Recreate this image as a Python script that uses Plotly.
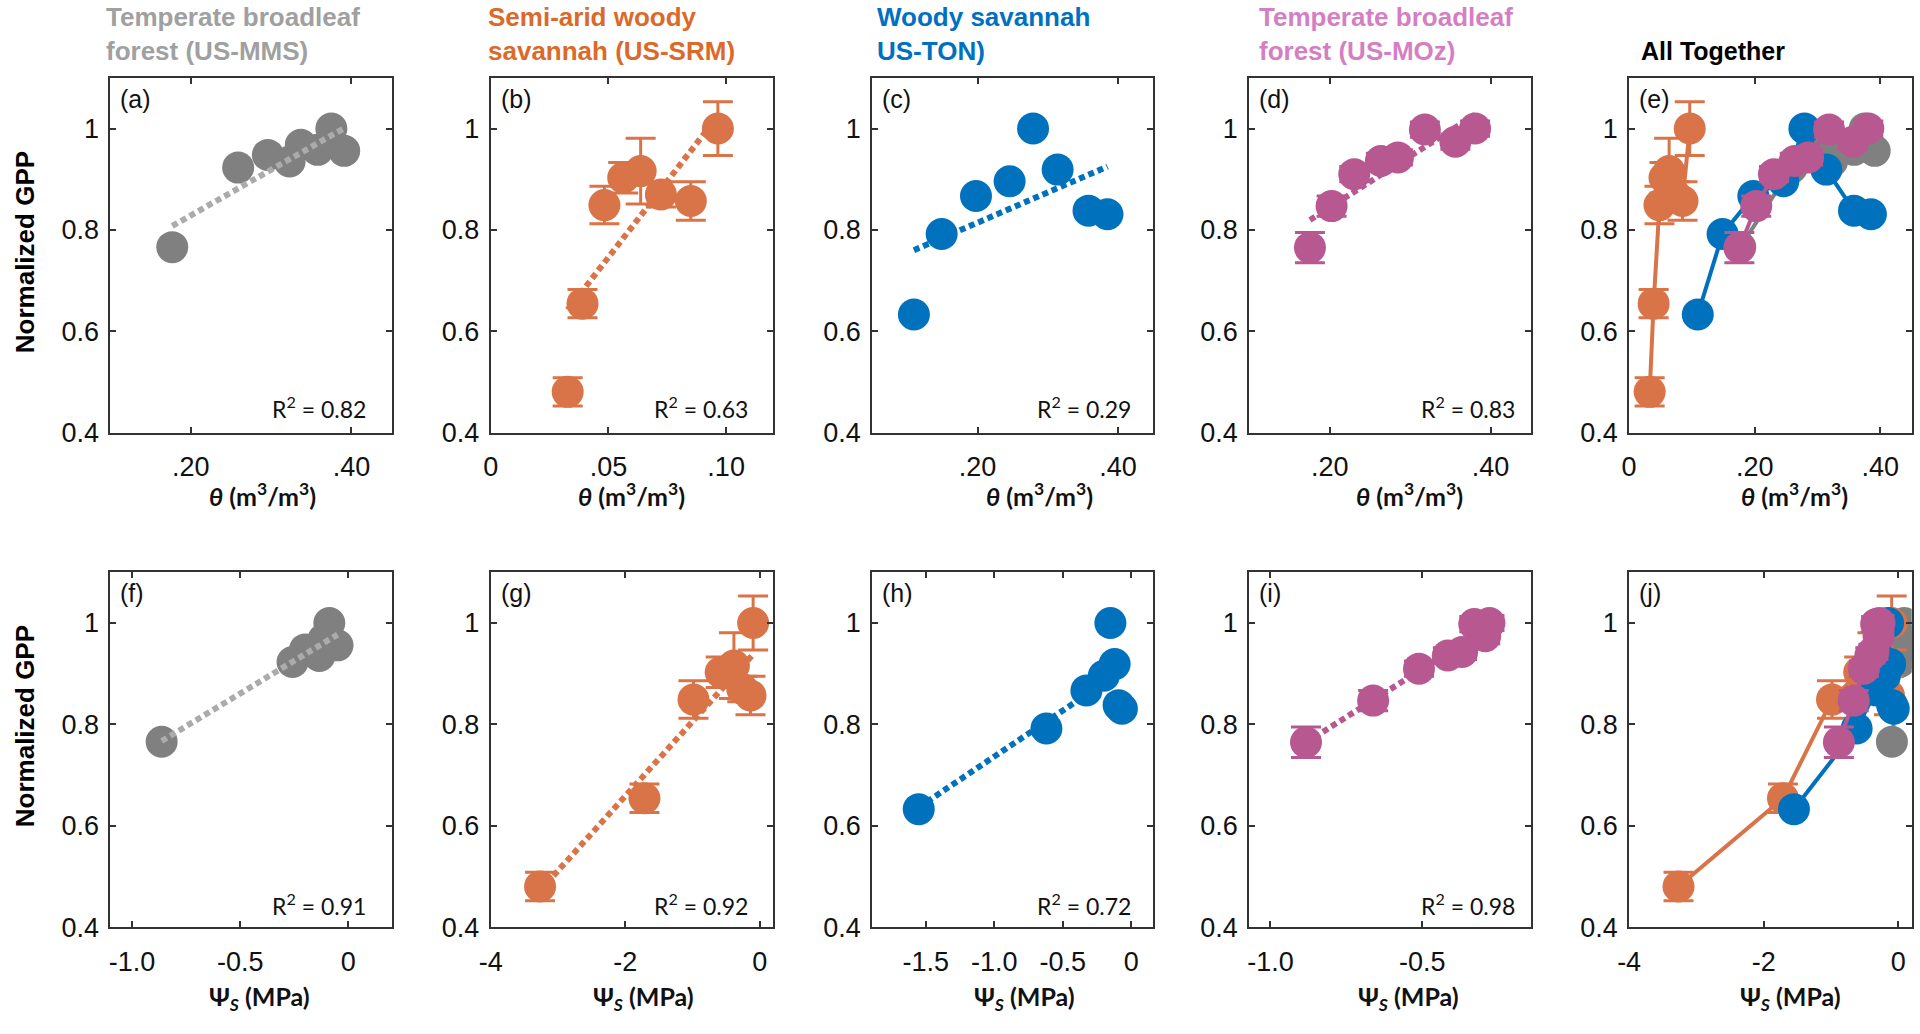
import numpy as np
import plotly.graph_objects as go

# ---------------- data ----------------
gpp_mms = [0.766, 0.923, 0.948, 0.935, 0.968, 0.958, 1.0, 0.956]
theta_mms = [0.177, 0.259, 0.296, 0.323, 0.337, 0.358, 0.375, 0.391]
psi_mms = [-0.863, -0.258, -0.20, -0.134, -0.115, -0.10, -0.088, -0.05]
psi_mms_all = [-0.095, 0.02, 0.04, 0.06, 0.07, 0.08, 0.09, 0.11]
err_mms = [0, 0, 0, 0, 0, 0, 0, 0]

gpp_srm = [0.4805, 0.6545, 0.849, 0.903, 0.916, 0.870, 0.857, 1.0]
theta_srm = [0.0327, 0.039, 0.0483, 0.0563, 0.0637, 0.0723, 0.085, 0.0965]
psi_srm = [-3.266, -1.714, -0.985, -0.581, -0.384, -0.26, -0.138, -0.0985]
err_srm = [0.028, 0.028, 0.037, 0.03, 0.065, 0.025, 0.038, 0.053]

gpp_ton = [0.633, 0.792, 0.867, 0.896, 1.0, 0.919, 0.838, 0.831]
theta_ton = [0.1093, 0.1488, 0.1977, 0.2456, 0.279, 0.314, 0.358, 0.385]
psi_ton = [-1.551, -0.619, -0.327, -0.2, -0.152, -0.121, -0.092, -0.068]
err_ton = [0, 0, 0, 0, 0, 0, 0, 0]

gpp_moz = [0.765, 0.847, 0.910, 0.936, 0.943, 0.998, 0.974, 1.0]
theta_moz = [0.1755, 0.2024, 0.2306, 0.2637, 0.2849, 0.3184, 0.3563, 0.3808]
psi_moz = [-0.883, -0.662, -0.511, -0.416, -0.369, -0.329, -0.293, -0.279]
err_moz = [0.03, 0.02, 0.015, 0.015, 0.015, 0.015, 0.015, 0.015]

r2_theta = ["0.82", "0.63", "0.29", "0.83"]
r2_psi = ["0.91", "0.92", "0.72", "0.98"]

site_titles = ["Temperate broadleaf<br>forest (US-MMS)",
               "Semi-arid woody<br>savannah (US-SRM)",
               "Woody savannah<br>US-TON)",
               "Temperate broadleaf<br>forest (US-MOz)"]
panel_letters = ["(a)", "(b)", "(c)", "(d)", "(e)", "(f)", "(g)", "(h)", "(i)", "(j)"]

theta_ticks = [[0.2, 0.4], [0, 0.05, 0.10], [0.2, 0.4], [0.2, 0.4], [0, 0.2, 0.4]]
theta_ticktext = [[".20", ".40"], ["0", ".05", ".10"], [".20", ".40"], [".20", ".40"], ["0", ".20", ".40"]]
psi_ticks = [[-1.0, -0.5, 0], [-4, -2, 0], [-1.5, -1.0, -0.5, 0], [-1.0, -0.5], [-4, -2, 0]]
psi_ticktext = [["-1.0", "-0.5", "0"], ["-4", "-2", "0"], ["-1.5", "-1.0", "-0.5", "0"],
                ["-1.0", "-0.5"], ["-4", "-2", "0"]]
y_ticks = [0.4, 0.6, 0.8, 1.0]
y_ticktext = ["0.4", "0.6", "0.8", "1"]

# ---------------- styling ----------------
W, H = 1920, 1034
marker_col = ["#808080", "#D97348", "#0072BD", "#B85891"]
fit_col = ["#ABABAB", "#D97348", "#0072BD", "#B85891"]
title_col = ["#A0A0A0", "#DB6A2A", "#0070C0", "#D57FC3"]

col_px = [(99, 382), (481.7, 766), (865.7, 1148.3), (1245, 1528.3), (1627.3, 1911.7)]
row_px = [(79, 439), (580.7, 941)]
theta_ranges = [[0.1, 0.45], [0, 0.12], [0.05, 0.45], [0.1, 0.45], [0, 0.45]]
psi_ranges = [[-1.1, 0.2], [-4, 0.2], [-1.89, 0.16], [-1.07, -0.143], [-4, 0.2]]

LAB = "Liberation Sans, Arial, sans-serif"
CAL = "Lato, Open Sans, sans-serif"


def px2x(p):
    return p / W


def px2y(p):
    return 1 - p / H


fig = go.Figure()
layout = {}
annotations = []

thetas = [theta_mms, theta_srm, theta_ton, theta_moz]
psis = [psi_mms, psi_srm, psi_ton, psi_moz]
gpps = [gpp_mms, gpp_srm, gpp_ton, gpp_moz]
errs = [err_mms, err_srm, err_ton, err_moz]

MS = 32


def add_axes(idx, row, col, rng, tv, tt):
    xa = "xaxis" if idx == 1 else f"xaxis{idx}"
    ya = "yaxis" if idx == 1 else f"yaxis{idx}"
    x0, x1 = col_px[col]
    y0, y1 = row_px[row]
    common = dict(showline=True, linecolor="#333333", linewidth=2, mirror="ticks",
                  ticks="inside", ticklen=6, tickwidth=2, tickcolor="#333333",
                  showgrid=False, zeroline=False,
                  tickfont=dict(family=LAB, size=27, color="#111111"))
    layout[xa] = dict(domain=[px2x(x0), px2x(x1)], range=rng, anchor=f"y{idx}",
                      tickmode="array", tickvals=tv, ticktext=tt,
                      ticklabelstandoff=9, **common)
    layout[ya] = dict(domain=[px2y(y1), px2y(y0)], range=[0.4, 1.1], anchor=f"x{idx}",
                      tickmode="array", tickvals=y_ticks, ticktext=y_ticktext,
                      ticklabelstandoff=4, **common)


def single_panel(idx, xs, ys, es, k):
    xr = f"x{idx}"
    yr = f"y{idx}"
    a, b = np.polyfit(xs, ys, 1)
    xl = [min(xs), max(xs)]
    yl = [a * v + b for v in xl]
    fit = go.Scatter(x=xl, y=yl, mode="lines", xaxis=xr, yaxis=yr, showlegend=False,
                     line=dict(color=fit_col[k], width=6, dash="6px,4px"), hoverinfo="skip")
    pts = go.Scatter(x=xs, y=ys, mode="markers", xaxis=xr, yaxis=yr, showlegend=False,
                     marker=dict(size=MS, color=marker_col[k], line=dict(width=0)),
                     error_y=dict(type="data", array=es, visible=any(e > 0 for e in es),
                                  color=marker_col[k], thickness=3, width=15))
    if k == 0:
        fig.add_trace(pts)
        fig.add_trace(fit)
    else:
        fig.add_trace(fit)
        fig.add_trace(pts)


def combined_panel(idx, xlist):
    xr = f"x{idx}"
    yr = f"y{idx}"
    for k in range(4):
        es = errs[k]
        fig.add_trace(go.Scatter(
            x=xlist[k], y=gpps[k], mode="lines+markers", xaxis=xr, yaxis=yr, showlegend=False,
            line=dict(color=marker_col[k], width=4),
            marker=dict(size=MS, color=marker_col[k], line=dict(width=0)),
            error_y=dict(type="data", array=es, visible=any(e > 0 for e in es),
                         color=marker_col[k], thickness=3, width=15)))


# top row: theta
for c in range(5):
    idx = c + 1
    add_axes(idx, 0, c, theta_ranges[c], theta_ticks[c], theta_ticktext[c])
    if c < 4:
        single_panel(idx, thetas[c], gpps[c], errs[c], c)
    else:
        combined_panel(idx, thetas)

# bottom row: psi
for c in range(5):
    idx = c + 6
    add_axes(idx, 1, c, psi_ranges[c], psi_ticks[c], psi_ticktext[c])
    if c < 4:
        single_panel(idx, psis[c], gpps[c], errs[c], c)
    else:
        combined_panel(idx, [psi_mms_all, psi_srm, psi_ton, psi_moz])


def ann(text, xp, yp, xanchor="center", yanchor="middle", size=24, family=LAB,
        color="#111111", textangle=0, align="center"):
    annotations.append(dict(text=text, x=px2x(xp), y=px2y(yp), xref="paper", yref="paper",
                            xanchor=xanchor, yanchor=yanchor, showarrow=False,
                            textangle=textangle, align=align,
                            font=dict(size=size, family=family, color=color)))


# site titles
title_left = [93, 477, 868, 1253]
for k in range(4):
    ann(f"<b>{site_titles[k]}</b>", title_left[k], 34, xanchor="left", size=26,
        color=title_col[k], align="left")
ann("<b>All Together</b>", 1637, 52, xanchor="left", size=25, color="#000000")

# y titles
ann("<b>Normalized GPP</b>", 13, 256, size=26, textangle=-90, color="#000000")
ann("<b>Normalized GPP</b>", 13, 737, size=26, textangle=-90, color="#000000")

# x titles
theta_title = "<b><i>θ</i> (m<sup>3</sup>/m<sup>3</sup>)</b>"
psi_title = "<b>Ψ<sub><i>S</i></sub> (MPa)</b>"
for xc in [252, 623, 1034, 1406, 1794]:
    ann(theta_title, xc, 502, size=25, family=CAL, color="#111111")
for xc in [249, 635, 1019, 1405, 1790]:
    ann(psi_title, xc, 1013, size=25, family=CAL, color="#111111")

# panel letters
for c in range(5):
    ann(panel_letters[c], col_px[c][0] + 8, row_px[0][0] + 21, xanchor="left", size=25)
    ann(panel_letters[c + 5], col_px[c][0] + 8, row_px[1][0] + 21, xanchor="left", size=25)

# R^2 labels
r2_right = [358, 743, 1128, 1514]
for k in range(4):
    ann(f"R<sup>2</sup> = {r2_theta[k]}", r2_right[k], 413, xanchor="right", size=23, family=CAL)
    ann(f"R<sup>2</sup> = {r2_psi[k]}", r2_right[k], 918, xanchor="right", size=23, family=CAL)

fig.update_layout(width=W, height=H, margin=dict(l=0, r=0, t=0, b=0),
                  paper_bgcolor="white", plot_bgcolor="white",
                  annotations=annotations, **layout)

fig.write_html("out.html", config={"displayModeBar": False},
               post_script="document.body.style.margin='0';document.body.style.overflow='hidden';")
